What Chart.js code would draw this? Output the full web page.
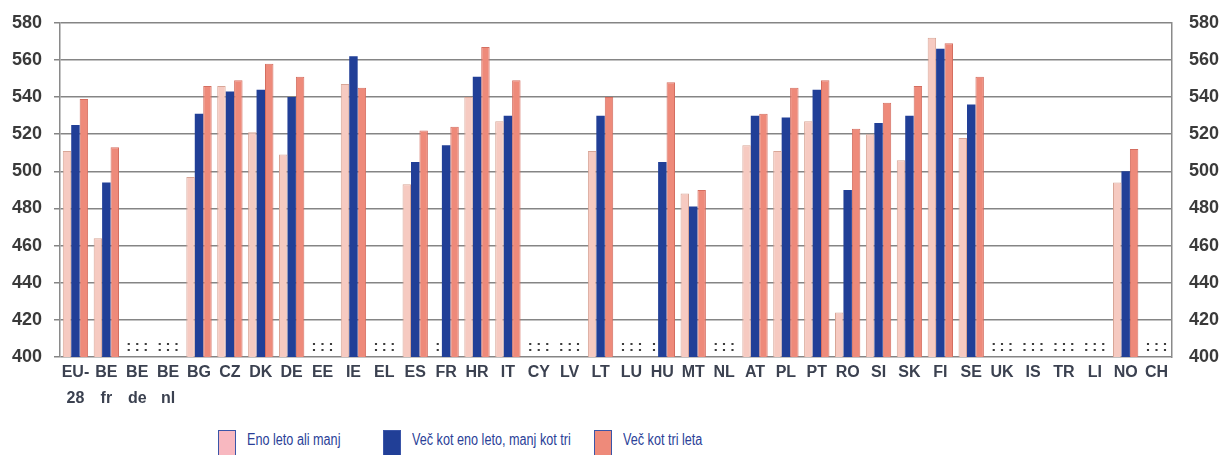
<!DOCTYPE html>
<html>
<head>
<meta charset="utf-8">
<script src="https://cdn.jsdelivr.net/npm/chart.js@4/dist/chart.umd.min.js"></script>
<style>
  html, body { margin: 0; padding: 0; background: #fff; }
  #wrap { position: relative; width: 1221px; height: 455px; overflow: hidden; }
  #chart-box { position: absolute; left: 0; top: 0; width: 1221px; height: 415px; }
  #legend { position: absolute; top: 430px; left: 0; width: 1221px; height: 25px; font-family: "Liberation Sans", Arial, sans-serif; font-size: 16px; color: #2b3f98; }
  #legend .item { position: absolute; top: 0; display: flex; align-items: flex-start; }
  #legend .box { width: 18px; height: 26px; border: 1px solid #3a55a8; box-sizing: border-box; margin-right: 11px; flex: none; }
  #legend .lbl { line-height: 19px; white-space: nowrap; transform: scaleX(0.79); transform-origin: left center; }
</style>
</head>
<body>
<div id="wrap">
  <div id="chart-box"><canvas id="graf"></canvas></div>
  <div id="legend"></div>
</div>
<script>
const drzave = [
    ['EU-', '28'], ['BE', 'fr'], ['BE', 'de'], ['BE', 'nl'], 'BG', 'CZ', 'DK', 'DE', 'EE', 'IE', 'EL', 'ES',
    'FR', 'HR', 'IT', 'CY', 'LV', 'LT', 'LU', 'HU', 'MT', 'NL', 'AT', 'PL', 'PT', 'RO', 'SI', 'SK',
    'FI', 'SE', 'UK', 'IS', 'TR', 'LI', 'NO', 'CH'
];
const enoLeto = [
    511, 464, null, null, 497, 546, 521, 509, null, 547, null, 493,
    null, 540, 527, null, null, 511, null, null, 488, null, 514, 511, 527, 424, 520, 506,
    572, 518, null, null, null, null, 494, null
];
const vecKotEno = [
    525, 494, null, null, 531, 543, 544, 540, null, 562, null, 505,
    514, 551, 530, null, null, 530, null, 505, 481, null, 530, 529, 544, 490, 526, 530,
    566, 536, null, null, null, null, 500, null
];
const vecKotTri = [
    539, 513, null, null, 546, 549, 558, 551, null, 545, null, 522,
    524, 567, 549, null, null, 540, null, 548, 490, null, 531, 545, 549, 523, 537, 546,
    569, 551, null, null, null, null, 512, null
];
const yTicks = [400, 420, 440, 460, 480, 500, 520, 540, 560, 580];
const oznake = ['Eno leto ali manj', 'Več kot eno leto, manj kot tri', 'Več kot tri leta'];
const barve = ['#f6cac1', '#213f97', '#ee8a7a'];
const robovi = ['#d8a697', '#213f97', '#d46e60'];
const legendaBarve = ['#f8b8c0', '#213f97', '#ee8a7a'];
const legendaX = [218, 383, 594];

const pisava = '"Liberation Sans", Arial, sans-serif';
const tickFont = { family: pisava, size: 18, weight: 'bold' };

// ':' za manjkajoce vrednosti
const manjkajoce = {
    id: 'manjkajoce',
    afterDatasetsDraw(chart) {
        const ctx = chart.ctx;
        const y = chart.scales.y;
        ctx.save();
        ctx.fillStyle = '#3c3c3c';
        ctx.font = 'bold 15px ' + pisava;
        ctx.textAlign = 'center';
        ctx.textBaseline = 'bottom';
        chart.data.datasets.forEach((ds, di) => {
            const meta = chart.getDatasetMeta(di);
            ds.data.forEach((v, i) => {
                if (v !== null) return;
                const el = meta.data[i];
                ctx.fillText(':', el.x, y.getPixelForValue(400) - 3);
            });
        });
        ctx.restore();
    }
};

const ctx = document.getElementById('graf');
new Chart(ctx, {
    type: 'bar',
    data: {
        labels: drzave,
        datasets: [enoLeto, vecKotEno, vecKotTri].map((d, i) => ({
            label: oznake[i],
            data: d,
            backgroundColor: barve[i],
            borderColor: robovi[i],
            borderWidth: i === 1 ? 0 : 1,
            borderSkipped: 'bottom',
            barPercentage: 1.0,
            categoryPercentage: 0.82,
            yAxisID: 'y'
        }))
    },
    options: {
        animation: false,
        responsive: true,
        maintainAspectRatio: false,
        layout: { padding: { top: 14, left: 0, right: 0, bottom: 0 } },
        plugins: {
            legend: { display: false },
            tooltip: { enabled: false }
        },
        scales: {
            x: {
                grid: { display: false },
                border: { display: false },
                ticks: {
                    color: '#3b4150',
                    font: { family: pisava, size: 16, weight: 'bold', lineHeight: 1.62 },
                    maxRotation: 0,
                    autoSkip: false,
                    padding: -5
                },
                afterFit(s) { s.height = 58; }
            },
            y: {
                position: 'left',
                min: 400,
                max: 580,
                afterBuildTicks(s) { s.ticks = yTicks.map(v => ({ value: v })); },
                grid: { color: '#858585', lineWidth: 1.5, tickLength: 6 },
                border: { display: true, color: '#8a8a8a', width: 1.5 },
                ticks: { color: '#3a3a3a', font: tickFont, padding: 12 },
                afterFit(s) { s.width = 60; }
            },
            y2: {
                position: 'right',
                min: 400,
                max: 580,
                afterBuildTicks(s) { s.ticks = yTicks.map(v => ({ value: v })); },
                grid: { display: false, drawOnChartArea: false },
                border: { display: true, color: '#8a8a8a', width: 1.5 },
                ticks: { color: '#3a3a3a', font: tickFont, padding: 9 },
                afterFit(s) { s.width = 49; }
            }
        }
    },
    plugins: [manjkajoce]
});

// legenda
const leg = document.getElementById('legend');
oznake.forEach((t, i) => {
    const it = document.createElement('div');
    it.className = 'item';
    it.style.left = legendaX[i] + 'px';
    const b = document.createElement('div');
    b.className = 'box';
    b.style.background = legendaBarve[i];
    const l = document.createElement('div');
    l.className = 'lbl';
    l.textContent = t;
    it.appendChild(b);
    it.appendChild(l);
    leg.appendChild(it);
});
</script>
</body>
</html>
